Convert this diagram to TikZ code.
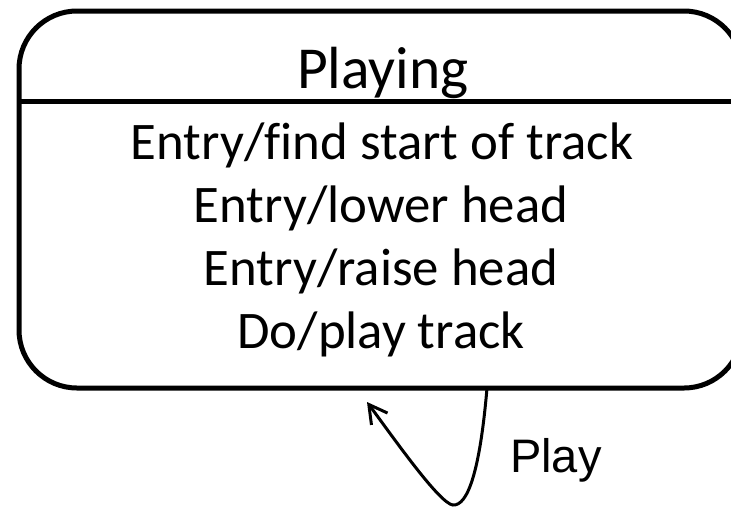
\documentclass[tikz,border=0pt]{standalone}
\usepackage{fontspec}
\setmainfont[Ligatures=NoCommon]{Carlito}
\newfontfamily\labelfont{Liberation Sans}
\usetikzlibrary{arrows.meta}

\tikzset{
  statebox/.style={draw, line width=5pt, rounded corners=58pt},
  divider/.style={line width=5pt},
  titletext/.style={anchor=base, inner sep=0pt, font=\fontsize{59.5}{59.5}\selectfont},
  actiontext/.style={anchor=base, inner sep=0pt, font=\fontsize{52.8}{52.8}\selectfont},
  transition/.style={line width=3pt, -{Straight Barb[length=18pt,width=20pt,line width=3pt]}},
  eventtext/.style={anchor=base west, inner sep=0pt, font=\labelfont\fontsize{47}{47}\selectfont}
}

\begin{document}
\begin{tikzpicture}[x=1pt, y=-1pt]
  \useasboundingbox (0,0) rectangle (731,507);
  \clip (0,0) rectangle (731,507);

  % state box (its right side runs past the page edge) and compartment line
  \coordinate (boxNW) at (19,11);
  \coordinate (boxSE) at (742,388);
  \draw[statebox] (boxNW) rectangle (boxSE);
  \coordinate (divL) at (19,101.5);
  \coordinate (divR) at (742,101.5);
  \draw[divider] (divL) -- (divR);

  % state name and internal activities
  \node[titletext] (title) at (383,88) {Playing};
  \node[actiontext] (a1) at (382,159) {Entry/find start of track};
  \node[actiontext] (a2) at (381,222) {Entry/lower head};
  \node[actiontext] (a3) at (381,285) {Entry/raise head};
  \node[actiontext] (a4) at (381,348) {Do/play track};

  % self transition
  \coordinate (out) at (487,0);
  \coordinate (in) at (367,402);
  \draw[transition] (boxSE -| out)
     .. controls (480,470) and (468,506) .. (453,505)
     .. controls (440,504) and (395,440) .. (in);
  \node[eventtext] (play) at (510,472) {Play};
\end{tikzpicture}
\end{document}
